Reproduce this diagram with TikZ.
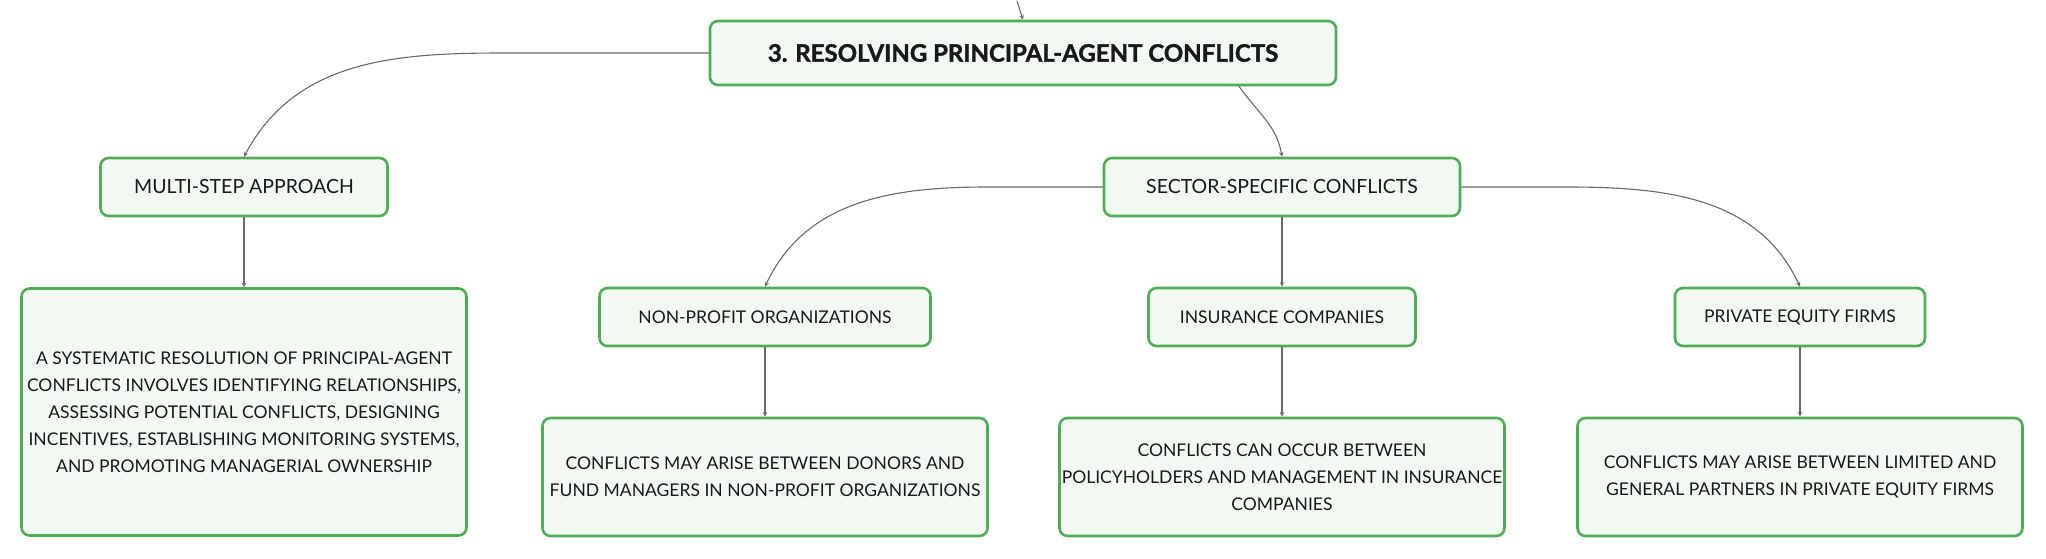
\documentclass[tikz,border=0pt]{standalone}
\usepackage{fontspec}
\setmainfont{Lato}
\newfontfamily\rootfont[BoldFeatures={FakeBold=1.6}]{Lato}
\usepackage{tikz}
\usetikzlibrary{arrows}
\definecolor{boxgreen}{RGB}{80,172,86}
\definecolor{boxfill}{RGB}{242,249,243}
\definecolor{linkgray}{RGB}{105,105,105}
\begin{document}
\begin{tikzpicture}[line cap=round,line join=round,>=stealth,x=1pt,y=1pt,
    box/.style={draw=boxgreen,line width=2.6pt,fill=boxfill,rounded corners=8pt,align=center,inner sep=0pt,text=black!90},
    rootbox/.style={box,minimum width=626pt,minimum height=64pt,font=\rootfont\bfseries\fontsize{24}{28}\selectfont},
    mainbox/.style={box,minimum height=58pt,font=\fontsize{19.5}{27}\selectfont},
    topicbox/.style={box,minimum height=58pt,font=\fontsize{17.5}{27}\selectfont},
    notebox/.style={box,minimum width=445pt,minimum height=118pt,font=\fontsize{17.5}{27}\selectfont},
    link/.style={draw=linkgray,line width=1.1pt,->}]
      \useasboundingbox (0,0) rectangle (2046,-559);
      \node[rootbox] (root) at (1023,-53) {3. RESOLVING PRINCIPAL-AGENT CONFLICTS};
      \node[mainbox,minimum width=287pt] (multi) at (244,-187) {MULTI-STEP APPROACH};
      \node[mainbox,minimum width=356pt] (sector) at (1282,-187) {SECTOR-SPECIFIC CONFLICTS};
      \node[topicbox,minimum width=331pt] (nonprofit) at (765,-317) {NON-PROFIT ORGANIZATIONS};
      \node[topicbox,minimum width=267pt] (insurance) at (1282,-317) {INSURANCE COMPANIES};
      \node[topicbox,minimum width=250pt] (privateeq) at (1800,-317) {PRIVATE EQUITY FIRMS};
      \node[notebox,minimum height=247pt] (multitxt) at (244,-412) {A SYSTEMATIC RESOLUTION OF PRINCIPAL-AGENT\\CONFLICTS INVOLVES IDENTIFYING RELATIONSHIPS,\\ASSESSING POTENTIAL CONFLICTS, DESIGNING\\INCENTIVES, ESTABLISHING MONITORING SYSTEMS,\\AND PROMOTING MANAGERIAL OWNERSHIP};
      \node[notebox] (nonprofittxt) at (765,-477) {CONFLICTS MAY ARISE BETWEEN DONORS AND\\FUND MANAGERS IN NON-PROFIT ORGANIZATIONS};
      \node[notebox] (insurancetxt) at (1282,-477) {CONFLICTS CAN OCCUR BETWEEN\\POLICYHOLDERS AND MANAGEMENT IN INSURANCE\\COMPANIES};
      \node[notebox] (privateeqtxt) at (1800,-477) {CONFLICTS MAY ARISE BETWEEN LIMITED AND\\GENERAL PARTNERS IN PRIVATE EQUITY FIRMS};
      \coordinate (up) at (1017,-1);
      \draw[link] (up) -- (root.north);
      \draw[link] (root.west) -- ++(-205,0) to[out=180,in=62] (multi.north);
      \draw[link] ([xshift=216pt]root.south) to[out=-55,in=100] (sector.north);
      \draw[link] (sector.west) -- ++(-115,0) to[out=180,in=65] (nonprofit.north);
      \draw[link] (sector.south) -- (insurance.north);
      \draw[link] (sector.east) -- ++(105,0) to[out=0,in=115] (privateeq.north);
      \draw[link] (multi.south) -- (multitxt.north);
      \draw[link] (nonprofit.south) -- (nonprofittxt.north);
      \draw[link] (insurance.south) -- (insurancetxt.north);
      \draw[link] (privateeq.south) -- (privateeqtxt.north);
    \end{tikzpicture}
\end{document}
